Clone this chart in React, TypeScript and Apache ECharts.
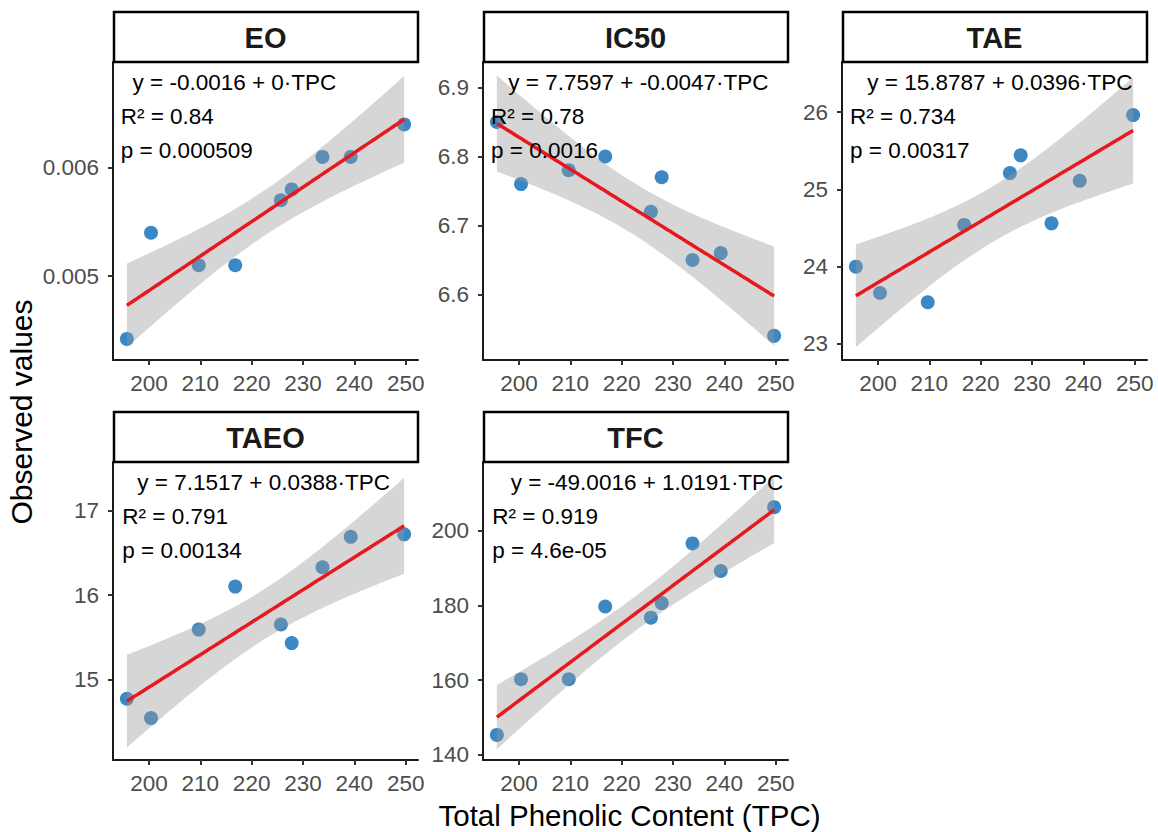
import React, { useEffect, useRef } from "react";
import * as echarts from "echarts";

// ---------------- data ----------------
const panelNames = ["EO", "IC50", "TAE", "TAEO", "TFC"];
const tpc = [195.7, 200.4, 209.7, 216.8, 225.7, 227.8, 233.8, 239.3, 249.7];
const eo = [0.00442, 0.0054, 0.0051, 0.0051, 0.0057, 0.0058, 0.0061, 0.0061, 0.0064];
const ic50 = [6.85, 6.76, 6.78, 6.8, 6.72, 6.77, 6.65, 6.66, 6.54];
const tae = [24.0, 23.66, 23.54, 24.54, 25.21, 25.44, 24.56, 25.11, 25.96];
const taeo = [14.77, 14.54, 15.59, 16.1, 15.65, 15.43, 16.33, 16.69, 16.72];
const tfc = [145.3, 160.2, 160.2, 179.7, 176.7, 180.6, 196.6, 189.2, 206.3];
const seriesValues = [eo, ic50, tae, taeo, tfc];

const xTicks = [200, 210, 220, 230, 240, 250];
const yTicksEO = [0.005, 0.006];
const yTicksIC50 = [6.6, 6.7, 6.8, 6.9];
const yTicksTAE = [23, 24, 25, 26];
const yTicksTAEO = [15, 16, 17];
const yTicksTFC = [140, 160, 180, 200];
const yTicks = [yTicksEO, yTicksIC50, yTicksTAE, yTicksTAEO, yTicksTFC];

const xLimits = [193.0, 252.4];
const yLimitsEO = [0.004225, 0.006976];
const yLimitsIC50 = [6.505, 6.937];
const yLimitsTAE = [22.793, 26.647];
const yLimitsTAEO = [14.043, 17.578];
const yLimitsTFC = [138.58, 218.4];
const yLimits = [yLimitsEO, yLimitsIC50, yLimitsTAE, yLimitsTAEO, yLimitsTFC];

const eqLabels = [
  "y = -0.0016 + 0·TPC",
  "y = 7.7597 + -0.0047·TPC",
  "y = 15.8787 + 0.0396·TPC",
  "y = 7.1517 + 0.0388·TPC",
  "y = -49.0016 + 1.0191·TPC",
];
const r2Labels = ["R² = 0.84", "R² = 0.78", "R² = 0.734", "R² = 0.791", "R² = 0.919"];
const pLabels = ["p = 0.000509", "p = 0.0016", "p = 0.00317", "p = 0.00134", "p = 4.6e-05"];

const xTitle = "Total Phenolic Content (TPC)";
const yTitle = "Observed values";

// ---------------- layout ----------------
const FONT = "Arial, 'Liberation Sans', Helvetica, sans-serif";
const colLeft = [113, 483, 842];
const rowTop = [62, 462];
const panelW = 305;
const panelH = 298;
const stripH = 51;
const eqOffsetX = [19.5, 25.3, 25.3, 24.3, 27.7];
const statOffsetX = [7.7, 8, 8, 9.3, 9.3];

const T_CRIT = 2.364624; // t(0.975, df = 7)

function fitLine(x: number[], y: number[]) {
  const n = x.length;
  const mx = x.reduce((s, v) => s + v, 0) / n;
  const my = y.reduce((s, v) => s + v, 0) / n;
  let sxx = 0;
  let sxy = 0;
  for (let i = 0; i < n; i++) {
    sxx += (x[i] - mx) ** 2;
    sxy += (x[i] - mx) * (y[i] - my);
  }
  const b = sxy / sxx;
  const a = my - b * mx;
  let sse = 0;
  for (let i = 0; i < n; i++) sse += (y[i] - a - b * x[i]) ** 2;
  const s = Math.sqrt(sse / (n - 2));
  return { a, b, s, mx, sxx, n };
}

function bandPoints(x: number[], y: number[]) {
  const f = fitLine(x, y);
  const x0 = Math.min(...x);
  const x1 = Math.max(...x);
  const steps = 80;
  const upper: number[][] = [];
  const lower: number[][] = [];
  const line: number[][] = [];
  for (let k = 0; k <= steps; k++) {
    const xv = x0 + ((x1 - x0) * k) / steps;
    const yh = f.a + f.b * xv;
    const se = f.s * Math.sqrt(1 / f.n + (xv - f.mx) ** 2 / f.sxx);
    upper.push([xv, yh + T_CRIT * se]);
    lower.push([xv, yh - T_CRIT * se]);
    line.push([xv, yh]);
  }
  return { polygon: upper.concat(lower.reverse()), line };
}

export default function App() {
  const ref = useRef<HTMLDivElement>(null);

  useEffect(() => {
    if (!ref.current) return;
    const chart = echarts.init(ref.current, undefined, { renderer: "svg" });

    const grids: any[] = [];
    const xAxes: any[] = [];
    const yAxes: any[] = [];
    const series: any[] = [];
    const graphics: any[] = [];

    panelNames.forEach((name, i) => {
      const col = i < 3 ? i : i - 3;
      const row = i < 3 ? 0 : 1;
      const left = colLeft[col];
      const top = rowTop[row];
      grids.push({ left, top, width: panelW, height: panelH, containLabel: false, outerBoundsMode: "none" });
      xAxes.push({
        gridIndex: i,
        type: "value",
        min: xLimits[0],
        max: xLimits[1],
        axisLine: { show: true, onZero: false, lineStyle: { color: "#1a1a1a", width: 2 } },
        axisTick: { show: true, inside: false, length: 5, customValues: xTicks, lineStyle: { color: "#333", width: 2 } },
        axisLabel: { customValues: xTicks, color: "#4D4D4D", fontSize: 22.5, margin: 12, fontFamily: FONT },
        splitLine: { show: false },
      });
      yAxes.push({
        gridIndex: i,
        type: "value",
        min: yLimits[i][0],
        max: yLimits[i][1],
        axisLine: { show: true, onZero: false, lineStyle: { color: "#1a1a1a", width: 2 } },
        axisTick: { show: true, inside: false, length: 5, customValues: yTicks[i], lineStyle: { color: "#333", width: 2 } },
        axisLabel: { customValues: yTicks[i], color: "#4D4D4D", fontSize: 22.5, margin: 14, fontFamily: FONT },
        splitLine: { show: false },
      });

      const ys = seriesValues[i];
      const band = bandPoints(tpc, ys);
      series.push({
        type: "scatter",
        xAxisIndex: i,
        yAxisIndex: i,
        data: tpc.map((x, k) => [x, ys[k]]),
        symbolSize: 14,
        itemStyle: { color: "#3C88C5", opacity: 1 },
        z: 2,
        silent: true,
      });
      series.push({
        type: "custom",
        xAxisIndex: i,
        yAxisIndex: i,
        data: [band.line[40]],
        clip: false,
        z: 3,
        silent: true,
        renderItem: (_p: any, api: any) => ({
          type: "polygon",
          shape: { points: band.polygon.map((pt) => api.coord(pt)) },
          style: { fill: "rgba(153,153,153,0.4)", stroke: "none" },
        }),
      });
      series.push({
        type: "line",
        xAxisIndex: i,
        yAxisIndex: i,
        data: band.line,
        showSymbol: false,
        symbol: "none",
        lineStyle: { color: "#E8191E", width: 3.5 },
        z: 4,
        silent: true,
      });

      // strip
      graphics.push({
        type: "rect",
        shape: { x: left + 1, y: top - stripH + 1, width: panelW - 1, height: stripH - 1 },
        style: { fill: "#fff", stroke: "#000", lineWidth: 2.5 },
        z: 10,
      });
      graphics.push({
        type: "text",
        x: left + panelW / 2,
        y: top - stripH / 2 + 1.5,
        style: { text: name, fontSize: 29, fontWeight: "bold", fontFamily: FONT, fill: "#1a1a1a", align: "center", verticalAlign: "middle" },
        z: 11,
      });
      // annotations
      graphics.push({
        type: "text",
        x: left + eqOffsetX[i],
        y: top + 20.5,
        style: { text: eqLabels[i], fontSize: 22.5, fontFamily: FONT, fill: "#000", align: "left", verticalAlign: "middle" },
        z: 12,
      });
      graphics.push({
        type: "text",
        x: left + statOffsetX[i],
        y: top + 54,
        style: { text: r2Labels[i], fontSize: 22.5, fontFamily: FONT, fill: "#000", align: "left", verticalAlign: "middle" },
        z: 12,
      });
      graphics.push({
        type: "text",
        x: left + statOffsetX[i],
        y: top + 88,
        style: { text: pLabels[i], fontSize: 22.5, fontFamily: FONT, fill: "#000", align: "left", verticalAlign: "middle" },
        z: 12,
      });
    });

    graphics.push({
      type: "text",
      x: 629.5,
      y: 815,
      style: { text: xTitle, fontSize: 29.5, fontFamily: FONT, fill: "#000", align: "center", verticalAlign: "middle" },
    });
    graphics.push({
      type: "text",
      x: 21.5,
      y: 412,
      rotation: Math.PI / 2,
      style: { text: yTitle, fontSize: 30, fontFamily: FONT, fill: "#000", align: "center", verticalAlign: "middle" },
    });

    chart.setOption({
      animation: false,
      backgroundColor: "#fff",
      grid: grids,
      xAxis: xAxes,
      yAxis: yAxes,
      series,
      graphic: graphics,
    });

    return () => chart.dispose();
  }, []);

  return (
    <div
      ref={ref}
      style={{ position: "absolute", left: 0, top: 0, width: 1158, height: 832, background: "#fff" }}
    />
  );
}
